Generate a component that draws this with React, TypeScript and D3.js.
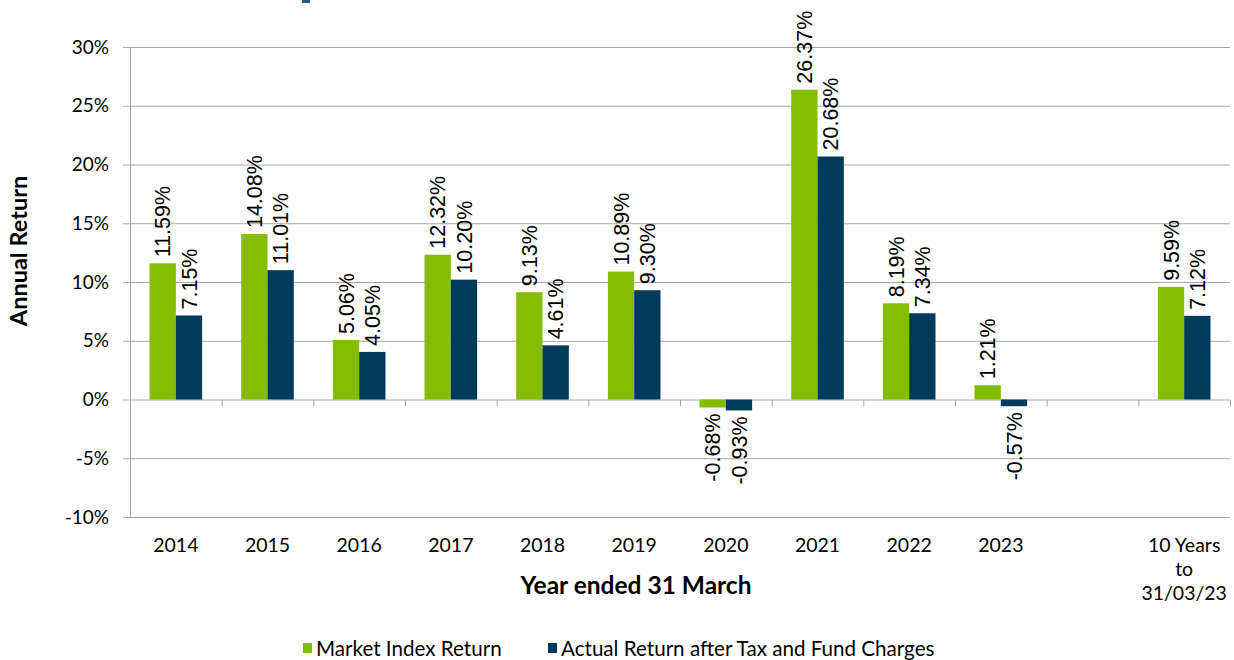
import React from "react";
import * as d3 from "d3";

const categories = ["2014", "2015", "2016", "2017", "2018", "2019", "2020", "2021", "2022", "2023", "", "10 Years|to|31/03/23"];
const marketIndex: (number | null)[] = [11.59, 14.08, 5.06, 12.32, 9.13, 10.89, -0.68, 26.37, 8.19, 1.21, null, 9.59];
const actualReturn: (number | null)[] = [7.15, 11.01, 4.05, 10.2, 4.61, 9.3, -0.93, 20.68, 7.34, -0.57, null, 7.12];
const yTicks = [-10, -5, 0, 5, 10, 15, 20, 25, 30];
const seriesNames = ["Market Index Return", "Actual Return after Tax and Fund Charges"];
const colors = ["#84BD00", "#003B5C"];

const W = 1234;
const H = 660;
const left = 130;
const right = 1230;
const top = 47;
const bottom = 517;
const labelFont = "'Liberation Sans', Arial, sans-serif";
const font = "Lato, 'Open Sans', sans-serif";

export default function App() {
  const x = d3.scaleBand<number>().domain(d3.range(categories.length)).range([left, right]).paddingInner(0).paddingOuter(0);
  const y = d3.scaleLinear().domain([-10, 30]).range([bottom, top]);
  const bw = x.bandwidth();
  const barW = bw * 0.287;
  const inner = d3.scaleBand<number>().domain([0, 1]).range([bw / 2 - barW, bw / 2 + barW]);
  const series = [marketIndex, actualReturn];

  return (
    <svg width={W} height={H} style={{ position: "absolute", left: 0, top: 0, background: "#fff" }}>
      <rect x={302} y={0} width={8} height={3} fill="#1F5A8A" />
      {/* gridlines */}
      {yTicks.map((t) => (
        <line key={t} x1={left - 7} x2={right} y1={y(t) + 0.5} y2={y(t) + 0.5} stroke="#a6a6a6" strokeWidth={1} />
      ))}
      <line x1={left + 0.5} x2={left + 0.5} y1={top} y2={bottom} stroke="#a6a6a6" />
      {/* category ticks */}
      {d3.range(1, categories.length + 1).map((i) => (
        <line key={i} x1={left + i * bw + 0.5} x2={left + i * bw + 0.5} y1={y(0)} y2={y(0) + 7} stroke="#a6a6a6" />
      ))}
      {/* y tick labels */}
      {yTicks.map((t) => (
        <text key={t} x={left - 21} y={y(t)} dy="0.35em" textAnchor="end" fontFamily={font} fontSize={19} fill="#000">
          {t}%
        </text>
      ))}
      {/* bars */}
      {series.map((s, si) =>
        s.map((v, i) =>
          v === null ? null : (
            <rect
              key={`${si}-${i}`}
              x={(x(i) as number) + (inner(si) as number)}
              y={y(Math.max(0, v))}
              width={inner.bandwidth()}
              height={Math.abs(y(v) - y(0))}
              fill={colors[si]}
            />
          )
        )
      )}
      {/* value labels */}
      {series.map((s, si) =>
        s.map((v, i) => {
          if (v === null) return null;
          const cx = (x(i) as number) + (inner(si) as number) + inner.bandwidth() / 2;
          const yy = v >= 0 ? y(v) - 6 : y(v) + 6;
          return (
            <text
              key={`l${si}-${i}`}
              transform={`translate(${cx},${yy}) rotate(-90)`}
              dy="0.35em"
              textAnchor={v >= 0 ? "start" : "end"}
              fontFamily={labelFont}
              fontSize={21.5}
              fill="#000"
            >
              {v.toFixed(2)}%
            </text>
          );
        })
      )}
      {/* x labels */}
      {categories.map((c, i) => (
        <text key={i} x={(x(i) as number) + bw / 2} y={552} textAnchor="middle" fontFamily={font} fontSize={19.5} fill="#000">
          {c.split("|").map((line, li) => (
            <tspan key={li} x={(x(i) as number) + bw / 2} dy={li === 0 ? 0 : 24}>
              {line}
            </tspan>
          ))}
        </text>
      ))}
      {/* axis titles */}
      <text x={636} y={594} textAnchor="middle" fontFamily={font} fontWeight="bold" fontSize={24.5} fill="#000">
        Year ended 31 March
      </text>
      <text transform={`translate(27,251) rotate(-90)`} textAnchor="middle" fontFamily={font} fontWeight="bold" fontSize={23.5} fill="#000">
        Annual Return
      </text>
      {/* legend */}
      {seriesNames.map((n, i) => {
        const lx = i === 0 ? 303 : 548;
        return (
          <g key={n}>
            <rect x={lx} y={643} width={9} height={10} fill={colors[i]} />
            <text x={lx + 13} y={656} fontFamily={font} fontSize={20.6} fill="#000">
              {n}
            </text>
          </g>
        );
      })}
    </svg>
  );
}
